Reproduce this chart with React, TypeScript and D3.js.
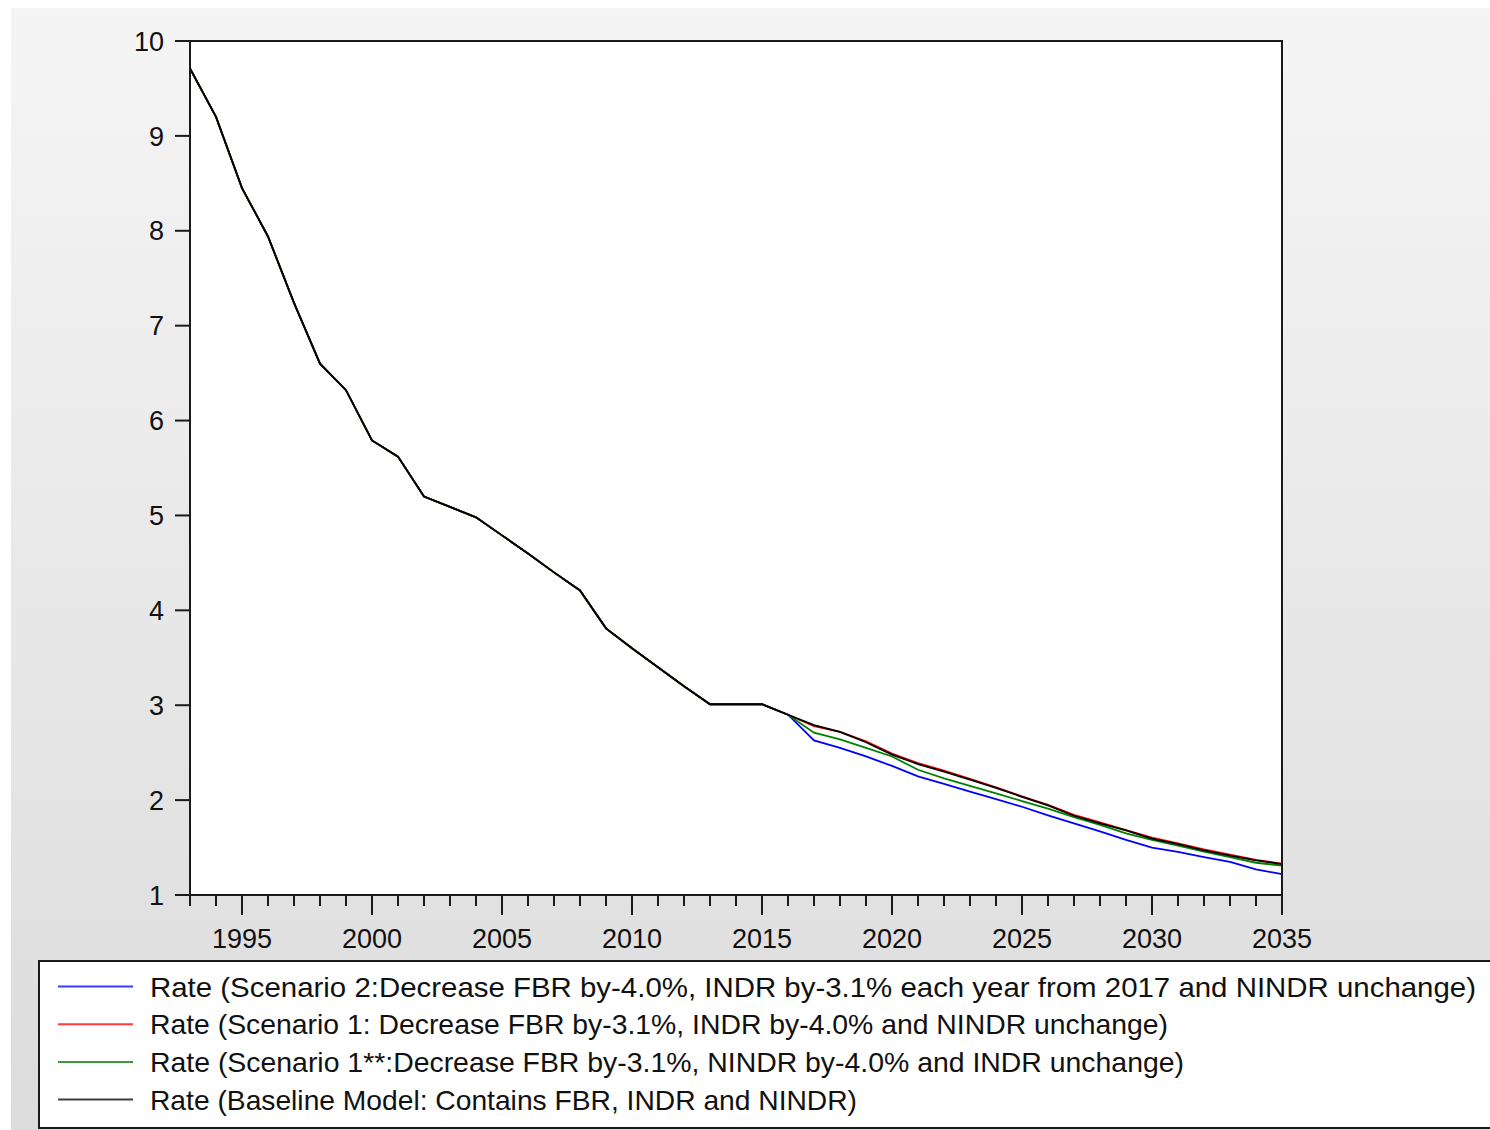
import * as d3 from "d3";

// years on the x axis
const years = d3.range(1993, 2036);

// shared history 1993-2016
const historyRate = [
  9.71, 9.2, 8.45, 7.94, 7.24, 6.6, 6.32, 5.79, 5.62, 5.2, 5.09, 4.98,
  4.79, 4.6, 4.4, 4.21, 3.81, 3.6, 3.4, 3.2, 3.01, 3.01, 3.01, 2.9,
];

// forecasts 2017-2035
const scenario2 = [
  2.63, 2.55, 2.46, 2.36, 2.25, 2.17, 2.09, 2.01, 1.93, 1.84, 1.755, 1.67,
  1.58, 1.5, 1.455, 1.4, 1.35, 1.27, 1.22,
];
const scenario1 = [
  2.78, 2.72, 2.62, 2.49, 2.39, 2.31, 2.225, 2.135, 2.04, 1.95, 1.845, 1.765,
  1.685, 1.605, 1.545, 1.48, 1.425, 1.37, 1.33,
];
const scenario1b = [
  2.71, 2.64, 2.55, 2.46, 2.32, 2.23, 2.15, 2.07, 1.99, 1.91, 1.82, 1.74,
  1.65, 1.58, 1.52, 1.456, 1.4, 1.34, 1.31,
];
const baseline = [
  2.79, 2.72, 2.61, 2.48, 2.38, 2.3, 2.215, 2.13, 2.035, 1.945, 1.835,
  1.755, 1.68, 1.595, 1.535, 1.47, 1.415, 1.365, 1.325,
];

const yTicks = [1, 2, 3, 4, 5, 6, 7, 8, 9, 10];
const xLabels = [1995, 2000, 2005, 2010, 2015, 2020, 2025, 2030, 2035];

const seriesLabels = [
  "Rate (Scenario 2:Decrease FBR by-4.0%, INDR by-3.1% each year from 2017 and NINDR unchange)",
  "Rate (Scenario 1: Decrease FBR by-3.1%, INDR by-4.0% and NINDR unchange)",
  "Rate (Scenario 1**:Decrease FBR by-3.1%, NINDR by-4.0% and INDR unchange)",
  "Rate (Baseline Model: Contains FBR, INDR and NINDR)",
];

const W = 1490;
const H = 1130;
const FONT = "'Liberation Sans', Arial, sans-serif";

export default function App() {
  const x = d3.scaleLinear().domain([1993, 2035]).range([190, 1282]);
  const y = d3.scaleLinear().domain([1, 10]).range([895, 41]);

  const series = [
    { values: historyRate.concat(scenario2), color: "#0000ff", swatch: "#3d3dff", len: 1326 },
    { values: historyRate.concat(scenario1), color: "#ff0000", swatch: "#ff3c3c", len: 1018 },
    { values: historyRate.concat(scenario1b), color: "#008000", swatch: "#3a9a3a", len: 1034 },
    { values: historyRate.concat(baseline), color: "#000000", swatch: "#404040", len: 707 },
  ];

  const line = d3
    .line<number>()
    .x((_, i) => x(years[i]))
    .y((d) => y(d));

  return (
    <svg
      width={W}
      height={H}
      style={{ position: "absolute", left: 0, top: 0, fontFamily: FONT }}
    >
      <defs>
        <linearGradient id="bg" x1="0" y1="0" x2="0" y2="1">
          <stop offset="0" stopColor="#f5f5f5" />
          <stop offset="1" stopColor="#dcdcdc" />
        </linearGradient>
      </defs>
      <rect x={0} y={0} width={W} height={H} fill="#fff" />
      <rect x={11} y={8} width={W - 11} height={H - 8} fill="url(#bg)" />

      {/* plot frame */}
      <rect x={190} y={41} width={1092} height={854} fill="#fff" />

      {series.map((s, i) => (
        <path key={i} d={line(s.values) || ""} fill="none" stroke={s.color} strokeWidth={1.8} />
      ))}

      <rect x={190} y={41} width={1092} height={854} fill="none" stroke="#1a1a1a" strokeWidth={2} />

      {/* y axis */}
      {yTicks.map((t) => (
        <g key={t}>
          <line x1={175} x2={190} y1={y(t)} y2={y(t)} stroke="#1a1a1a" strokeWidth={2} />
          <text
            x={164}
            y={y(t)}
            dy="0.36em"
            textAnchor="end"
            fontSize={27}
            fill="#111"
          >
            {t}
          </text>
        </g>
      ))}

      {/* x axis ticks */}
      {years.map((yr) => {
        const major = yr % 5 === 0;
        return (
          <line
            key={yr}
            x1={x(yr)}
            x2={x(yr)}
            y1={895}
            y2={major ? 915 : 906}
            stroke="#1a1a1a"
            strokeWidth={2}
          />
        );
      })}
      {xLabels.map((yr) => (
        <text key={yr} x={x(yr)} y={948} textAnchor="middle" fontSize={27} fill="#111">
          {yr}
        </text>
      ))}

      {/* legend */}
      <rect x={39} y={961} width={1460} height={167} fill="#fff" stroke="#1a1a1a" strokeWidth={2} />
      {seriesLabels.map((label, i) => {
        const ly = 986.5 + i * 37.7;
        return (
          <g key={i}>
            <line x1={58} x2={133} y1={ly} y2={ly} stroke={series[i].swatch} strokeWidth={2} />
            <text
              x={150}
              y={ly + 10}
              fontSize={28}
              fill="#111"
              textLength={series[i].len}
              lengthAdjust="spacingAndGlyphs"
            >
              {label}
            </text>
          </g>
        );
      })}
    </svg>
  );
}
